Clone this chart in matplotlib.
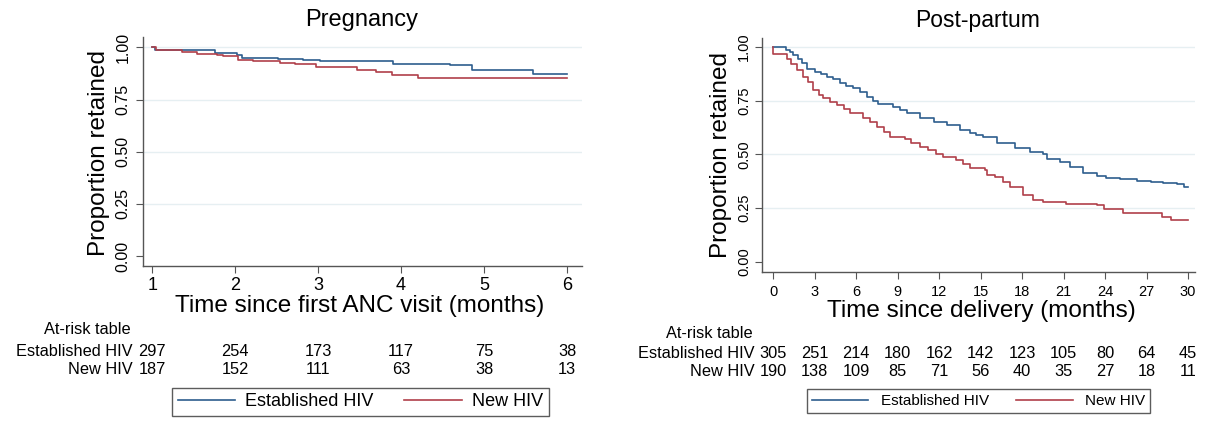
import matplotlib
matplotlib.use("Agg")
import matplotlib.pyplot as plt
import matplotlib.transforms as mtransforms
from matplotlib.lines import Line2D

plt.rcParams['font.family'] = ['Liberation Sans', 'DejaVu Sans']

# ---------------- data ----------------
series_names = ["Established HIV", "New HIV"]

# Pregnancy panel (time since first ANC visit, months)
preg_est_t = [1.0, 1.03, 1.2, 1.76, 2.02, 2.08, 2.52, 2.82, 3.02, 3.9, 4.59, 4.85, 5.59, 6.0]
preg_est_s = [1.0, 0.99, 0.986, 0.973, 0.962, 0.95, 0.946, 0.941, 0.935, 0.922, 0.914, 0.89, 0.874, 0.874]
preg_new_t = [1.0, 1.05, 1.36, 1.54, 1.78, 1.86, 2.04, 2.22, 2.54, 2.72, 2.98, 3.47, 3.7, 3.89, 4.2, 6.0]
preg_new_s = [1.0, 0.989, 0.977, 0.97, 0.962, 0.957, 0.941, 0.935, 0.925, 0.919, 0.906, 0.893, 0.882, 0.87, 0.855, 0.855]

preg_ticks = [1, 2, 3, 4, 5, 6]
preg_risk_est = [297, 254, 173, 117, 75, 38]
preg_risk_new = [187, 152, 111, 63, 38, 13]

# Post-partum panel (time since delivery, months)
pp_est_t = [0, 0.95, 1.2, 1.47, 1.8, 2.1, 2.43, 3.04, 3.5, 3.88, 4.3, 4.84, 5.3, 5.8, 6.3, 6.78,
            7.2, 7.62, 8.7, 9.2, 9.67, 10.6, 11.6, 12.56, 13.5, 14.24, 14.7, 15.2, 16.2, 17.5,
            18.6, 19.5, 19.8, 20.75, 21.5, 22.4, 23.4, 24.1, 25.1, 26.3, 27.3, 28.2, 29.2, 29.7, 30.0]
pp_est_s = [1.0, 0.985, 0.975, 0.963, 0.945, 0.925, 0.90, 0.885, 0.875, 0.862, 0.85, 0.831, 0.82,
            0.808, 0.79, 0.769, 0.75, 0.735, 0.72, 0.705, 0.692, 0.668, 0.653, 0.637, 0.614, 0.601,
            0.59, 0.58, 0.555, 0.529, 0.513, 0.502, 0.478, 0.467, 0.44, 0.415, 0.40, 0.389, 0.385,
            0.378, 0.373, 0.366, 0.363, 0.35, 0.35]
pp_new_t = [0, 0.02, 0.98, 1.3, 1.71, 2.19, 2.5, 2.91, 3.3, 3.64, 4.1, 4.6, 5.1, 5.57, 6.53, 7.0,
            7.5, 8.0, 8.46, 9.54, 10.0, 10.6, 11.2, 11.8, 12.3, 13.2, 13.7, 14.24, 15.3, 15.45,
            16.05, 16.65, 17.1, 18.1, 18.8, 19.5, 21.2, 23.4, 23.9, 25.3, 28.1, 28.8, 30.0]
pp_new_s = [1.0, 0.967, 0.945, 0.92, 0.893, 0.862, 0.835, 0.80, 0.775, 0.761, 0.745, 0.73, 0.71,
            0.692, 0.668, 0.65, 0.629, 0.605, 0.583, 0.57, 0.555, 0.536, 0.52, 0.50, 0.49, 0.475,
            0.455, 0.436, 0.428, 0.405, 0.394, 0.373, 0.347, 0.312, 0.288, 0.278, 0.27, 0.265,
            0.245, 0.226, 0.211, 0.195, 0.195]

pp_ticks = [0, 3, 6, 9, 12, 15, 18, 21, 24, 27, 30]
pp_risk_est = [305, 251, 214, 180, 162, 142, 123, 105, 80, 64, 45]
pp_risk_new = [190, 138, 109, 85, 71, 56, 40, 35, 27, 18, 11]

y_ticks = [0.0, 0.25, 0.5, 0.75, 1.0]

# ---------------- style ----------------
BLUE = '#2d5e8e'
RED = '#b0404a'
GRID = '#e6eff2'
AXC = '#555555'

W, H = 1217, 422
fig = plt.figure(figsize=(W / 100, H / 100), dpi=100)
fig.patch.set_facecolor('white')


def fx(px):
    return px / W


def fy(py):
    return 1 - py / H


def make_panel(rect, t_est, s_est, t_new, s_new, xticks, xlim, ylim,
               tick_fs, ytick_fs, tick_pad, ytick_pad):
    ax = fig.add_axes(rect)
    for y in y_ticks[1:]:
        ax.axhline(y, color=GRID, lw=1.0, zorder=0)
    ax.step(t_est, s_est, where='post', color=BLUE, lw=1.2, zorder=3)
    ax.step(t_new, s_new, where='post', color=RED, lw=1.2, zorder=3)
    ax.set_xlim(*xlim)
    ax.set_ylim(*ylim)
    ax.set_xticks(xticks)
    ax.set_yticks(y_ticks)
    ax.set_yticklabels([f"{v:.2f}" for v in y_ticks], rotation=90, va='center')
    for s in ['top', 'right']:
        ax.spines[s].set_visible(False)
    for s in ['left', 'bottom']:
        ax.spines[s].set_color(AXC)
        ax.spines[s].set_linewidth(1.0)
    ax.tick_params(axis='x', length=5, color=AXC, labelsize=tick_fs, pad=tick_pad)
    ax.tick_params(axis='y', length=5, color=AXC, labelsize=ytick_fs, pad=ytick_pad)
    return ax


# Left panel
axL = make_panel([fx(143), fy(266), fx(582) - fx(143), fy(37) - fy(266)],
                 preg_est_t, preg_est_s, preg_new_t, preg_new_s,
                 preg_ticks, (0.89, 6.18), (-0.048, 1.05), 13, 11.5, 3, 4)
# Right panel
axR = make_panel([fx(762), fy(272), fx(1195) - fx(762), fy(38) - fy(272)],
                 pp_est_t, pp_est_s, pp_new_t, pp_new_s,
                 pp_ticks, (-0.8, 30.5), (-0.047, 1.042), 10.5, 10.5, 4, 3)

# Titles & axis labels
fig.text(fx(362), fy(20), "Pregnancy", ha='center', va='center', fontsize=17)
fig.text(fx(978), fy(20), "Post-partum", ha='center', va='center', fontsize=16.5)
fig.text(fx(360), fy(306), "Time since first ANC visit (months)", ha='center', va='center', fontsize=17.5)
fig.text(fx(981), fy(311), "Time since delivery (months)", ha='center', va='center', fontsize=17.5)
fig.text(fx(99), fy(153), "Proportion retained", ha='center', va='center', rotation=90, fontsize=17.5)
fig.text(fx(721), fy(155), "Proportion retained", ha='center', va='center', rotation=90, fontsize=17.5)


# At-risk tables
def risk_table(ax, ticks, est, new, label_x, title_x, ys, fs, nfs):
    tr = mtransforms.blended_transform_factory(ax.transData, fig.transFigure)
    ax.text(title_x, fy(ys[0]), "At-risk table", transform=tr, ha='right', va='center',
            fontsize=fs, clip_on=False)
    ax.text(label_x, fy(ys[1]), series_names[0], transform=tr, ha='right', va='center',
            fontsize=fs, clip_on=False)
    ax.text(label_x, fy(ys[2]), series_names[1], transform=tr, ha='right', va='center',
            fontsize=fs, clip_on=False)
    for t, a, b in zip(ticks, est, new):
        ax.text(t, fy(ys[1]), str(a), transform=tr, ha='center', va='center', fontsize=nfs, clip_on=False)
        ax.text(t, fy(ys[2]), str(b), transform=tr, ha='center', va='center', fontsize=nfs, clip_on=False)


risk_table(axL, preg_ticks, preg_risk_est, preg_risk_new, 0.765, 0.735, (330, 351, 369), 11.8, 11.8)
risk_table(axR, pp_ticks, pp_risk_est, pp_risk_new, -1.35, -1.45, (333, 353, 371), 11.8, 11.8)

# Legends
handles = [Line2D([], [], color=BLUE, lw=1.2), Line2D([], [], color=RED, lw=1.2)]
legL = fig.legend(handles, series_names, loc='center', bbox_to_anchor=(fx(360.5), fy(402)),
                  ncol=2, fontsize=13, frameon=True, fancybox=False, edgecolor='#333333',
                  handlelength=3.2, handletextpad=0.55, columnspacing=1.7, borderpad=0.3)
legL.get_frame().set_linewidth(1.0)
legR = fig.legend(handles, series_names, loc='center', bbox_to_anchor=(fx(978.5), fy(401)),
                  ncol=2, fontsize=11, frameon=True, fancybox=False, edgecolor='#333333',
                  handlelength=3.7, handletextpad=0.8, columnspacing=1.8, borderpad=0.35)
legR.get_frame().set_linewidth(1.0)

fig.savefig("out.png", dpi=100, facecolor='white')
